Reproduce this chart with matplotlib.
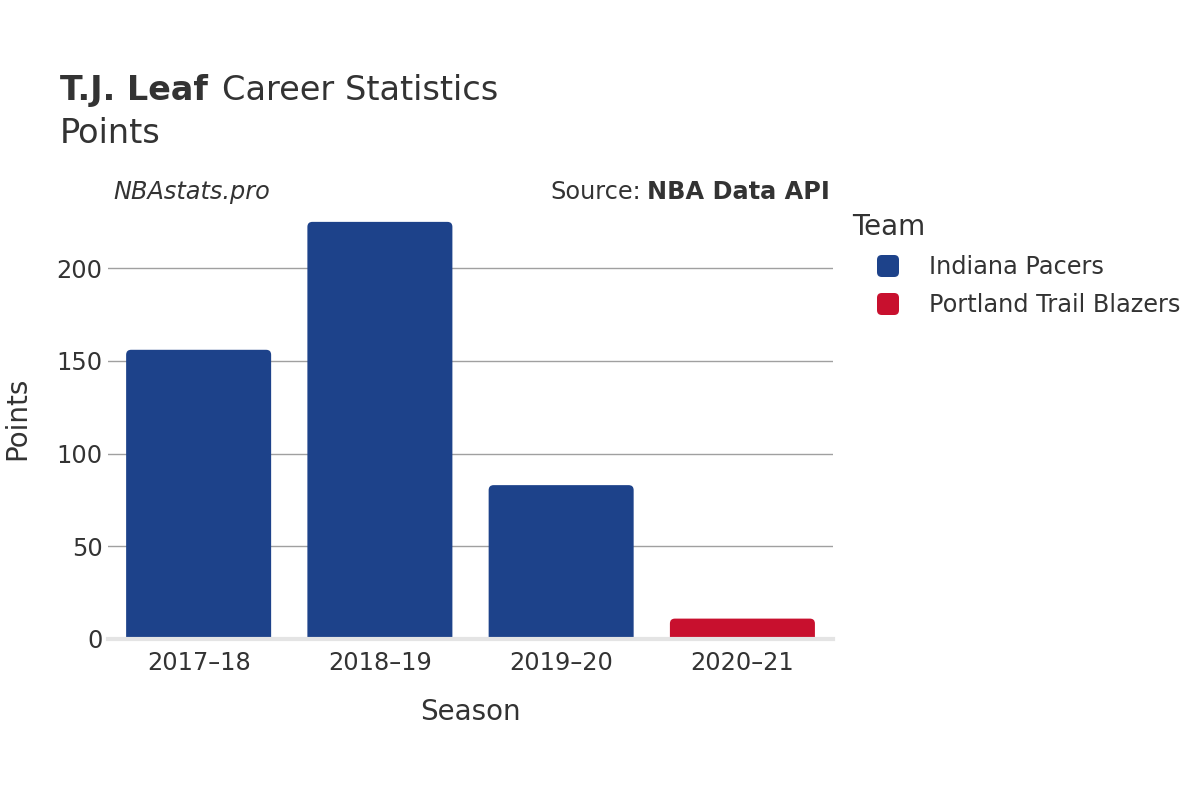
import matplotlib
matplotlib.use("Agg")
import matplotlib.pyplot as plt
from matplotlib.patches import FancyBboxPatch

# ── data ──────────────────────────────────────────────
seasons = ["2017–18", "2018–19", "2019–20", "2020–21"]
points = [156, 225, 83, 11]
bar_teams = ["Indiana Pacers", "Indiana Pacers", "Indiana Pacers", "Portland Trail Blazers"]

teams = ["Indiana Pacers", "Portland Trail Blazers"]
team_colors = {"Indiana Pacers": "#1d428a", "Portland Trail Blazers": "#c8102e"}

yticks = [0, 50, 100, 150, 200]

TXT = "#333333"
FS = 17.3
plt.rcParams["font.family"] = ["DejaVu Sans"]

fig = plt.figure(figsize=(12, 8), dpi=100)
ax = fig.add_axes([0.09, 0.20125, 0.6042, 0.54875])

ymax = 236.8
ax.set_xlim(-0.5, len(seasons) - 0.5)
ax.set_ylim(0, ymax)

# rounded bars (plotly style)
px_x = (0.6042 * 1200) / len(seasons)      # pixels per category
px_y = (0.54875 * 800) / ymax              # pixels per point
r = 5 / px_x
width = 0.8
for i, (s, v, t) in enumerate(zip(seasons, points, bar_teams)):
    box = FancyBboxPatch((i - width / 2, -4), width, v + 4,
                         boxstyle=f"round,pad=0,rounding_size={r}",
                         mutation_aspect=px_x / px_y,
                         facecolor=team_colors[t], edgecolor="none",
                         zorder=3, clip_on=True)
    ax.add_patch(box)

ax.set_xticks(range(len(seasons)))
ax.set_xticklabels(seasons)
ax.set_yticks(yticks)
ax.tick_params(axis="both", length=0, labelsize=FS, colors=TXT)
ax.tick_params(axis="x", pad=9)
ax.tick_params(axis="y", pad=4)
ax.grid(axis="y", color="#a0a0a0", linewidth=1, zorder=0)
ax.set_axisbelow(True)
for sp in ax.spines.values():
    sp.set_visible(False)
ax.axhline(0, color="#e4e4e4", linewidth=3, zorder=4, clip_on=False)

# titles
fig.text(0.05, 1 - 100 / 800, "T.J. Leaf", fontsize=24, fontweight="bold",
         color=TXT, va="baseline", ha="left")
fig.text(0.05 + 162 / 1200, 1 - 100 / 800, "Career Statistics", fontsize=24.2,
         color=TXT, va="baseline", ha="left")
fig.text(0.05, 1 - 143 / 800, "Points", fontsize=24.2, color=TXT,
         va="baseline", ha="left")

fig.text(113 / 1200, 1 - 199 / 800, "NBAstats.pro", fontsize=FS,
         style="italic", color=TXT, va="baseline", ha="left")
fig.text(830 / 1200, 1 - 199 / 800, "NBA Data API", fontsize=FS,
         fontweight="bold", color=TXT, va="baseline", ha="right")
fig.text(641 / 1200, 1 - 199 / 800, "Source:", fontsize=FS,
         color=TXT, va="baseline", ha="right")

fig.text(17 / 1200, 1 - 418 / 800, "Points", fontsize=20, color=TXT,
         rotation=90, va="center", ha="center")
fig.text(470 / 1200, 1 - 712 / 800, "Season", fontsize=20, color=TXT,
         va="center", ha="center")

# legend
fig.text(852 / 1200, 1 - 227 / 800, "Team", fontsize=20, color=TXT,
         va="center", ha="left")
for k, t in enumerate(teams):
    yc = 266 + 38 * k
    sq = FancyBboxPatch(((888 - 11) / 1200, 1 - (yc + 11) / 800), 22 / 1200, 22 / 800,
                        boxstyle="round,pad=0,rounding_size=0.004",
                        mutation_aspect=1.5,
                        transform=fig.transFigure, facecolor=team_colors[t],
                        edgecolor="none")
    fig.patches.append(sq)
    fig.text(929 / 1200, 1 - (yc + 1) / 800, t, fontsize=FS, color=TXT,
             va="center", ha="left")

fig.savefig("out.png", dpi=100)
